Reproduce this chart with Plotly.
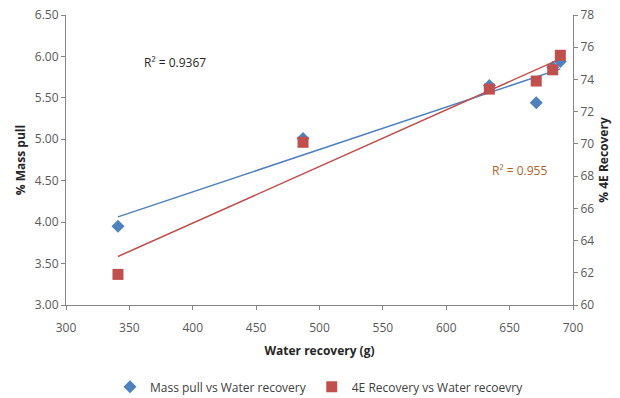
import numpy as np
import plotly.graph_objects as go

water = [341, 487, 634, 671, 684, 690]
mass_pull = [3.95, 5.01, 5.65, 5.44, 5.87, 5.94]
rec_4e = [61.9, 70.1, 73.4, 73.9, 74.6, 75.5]
r2_mass = "R² = 0.9367"
r2_rec = "R² = 0.955"

blue = "#4F81BD"
red = "#C0504D"
font = "Open Sans"

xw = np.array(water, dtype=float)
pm = np.polyfit(xw, mass_pull, 1)
pr = np.polyfit(xw, rec_4e, 1)
xt = np.array([min(water), max(water)], dtype=float)

fig = go.Figure()
fig.add_trace(go.Scatter(x=xt, y=np.polyval(pm, xt), mode="lines",
                         line=dict(color=blue, width=1.5), showlegend=False, hoverinfo="skip"))
fig.add_trace(go.Scatter(x=xt, y=np.polyval(pr, xt), mode="lines", yaxis="y2",
                         line=dict(color=red, width=1.5), showlegend=False, hoverinfo="skip"))
fig.add_trace(go.Scatter(x=water, y=mass_pull, mode="markers", name="Mass pull vs Water recovery",
                         marker=dict(symbol="diamond", size=10, color=blue)))
fig.add_trace(go.Scatter(x=water, y=rec_4e, mode="markers", name="4E Recovery vs Water recoevry",
                         yaxis="y2", marker=dict(symbol="square", size=11, color=red)))

axis_common = dict(showgrid=False, zeroline=False, showline=True, linecolor="#868686",
                   linewidth=1, ticks="outside", ticklen=4, tickcolor="#868686", automargin=False,
                   tickfont=dict(family=font, size=12, color="#595959"))

fig.update_layout(
    width=620, height=398,
    margin=dict(l=66, r=47, t=15, b=93),
    paper_bgcolor="white", plot_bgcolor="white",
    font=dict(family=font, size=12, color="#404040"),
    xaxis=dict(range=[300, 700], dtick=50, ticklabelstandoff=8, **axis_common,
               title=dict(text="<b>Water recovery (g)</b>", font=dict(family=font, size=12, color="#262626"), standoff=11)),
    yaxis=dict(range=[3.0, 6.5], dtick=0.5, tickformat=".2f", **axis_common,
               title=dict(text="<b>% Mass pull</b>", font=dict(family=font, size=12, color="#262626"), standoff=6)),
    yaxis2=dict(range=[60, 78], dtick=2, overlaying="y", side="right", **axis_common,
                title=dict(text="<b>% 4E Recovery</b>", font=dict(family=font, size=12, color="#262626"), standoff=6)),
    legend=dict(orientation="h", x=0.5, xanchor="center", y=0.028, yanchor="middle", yref="container",
                font=dict(family=font, size=12, color="#404040"), itemwidth=30, traceorder="normal"),
    annotations=[
        dict(x=386, y=5.93, xref="x", yref="y", text=r2_mass, showarrow=False,
             font=dict(family=font, size=12, color="#262626")),
        dict(x=658, y=4.62, xref="x", yref="y", text=r2_rec, showarrow=False,
             font=dict(family=font, size=12, color="#B0642A")),
    ],
)

fig.write_html("out.html")
